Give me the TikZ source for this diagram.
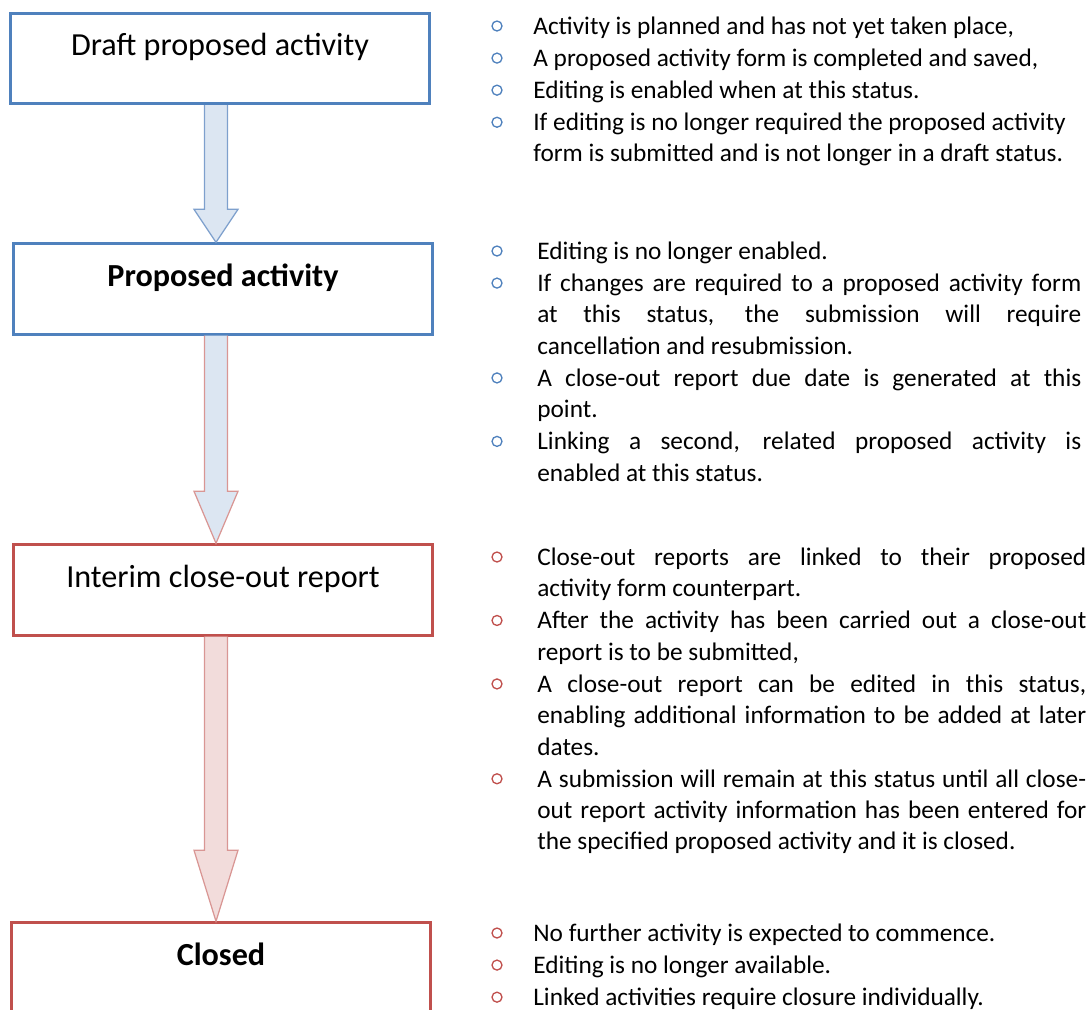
\documentclass[tikz,border=0pt]{standalone}
\usepackage{fontspec}
\setmainfont{Carlito}
\usepackage{tikz}
\usetikzlibrary{positioning, calc}
\definecolor{statusblue}{RGB}{79, 129, 189}
\definecolor{statusred}{RGB}{192, 80, 77}
\definecolor{flowblue}{RGB}{220, 230, 242}
\definecolor{flowpink}{RGB}{242, 220, 219}
\definecolor{edgeblue}{RGB}{126, 160, 205}
\definecolor{edgered}{RGB}{217, 150, 148}
\tolerance=10000
\hbadness=10000
\hyphenpenalty=10000

% block arrow between two status boxes: style, from, to, head length
\newcommand{\flowarrow}[4]{%
  \filldraw[#1] ($(flowaxis |- #2.south)+(-0.23cm,0)$)
    -- ($(flowaxis |- #3.north)+(-0.23cm,#4)$) -- ++(-0.21cm,0)
    -- (flowaxis |- #3.north)
    -- ($(flowaxis |- #3.north)+(0.44cm,#4)$) -- ++(-0.21cm,0)
    -- ($(flowaxis |- #2.south)+(0.23cm,0)$);}

\begin{document}
\begin{tikzpicture}[x=0.02cm, y=-0.02cm,
    status/.style={draw, line width=1.7pt, fill=white, minimum width=8.4cm, minimum height=1.81cm,
      text height=13pt, text depth=16pt, font=\fontsize{18.3}{22}\selectfont},
    note/.style={anchor=north west, inner sep=0pt, align=left, font=\fontsize{14.4}{17.86}\selectfont,
      execute at begin node=\strut, execute at end node=\strut},
    justnote/.style={note, align=justify, text width=#1},
    bul/.style={circle, draw, line width=0.75pt, minimum size=0.2cm, inner sep=0pt},
    bluearrow/.style={fill=flowblue, draw=edgeblue, line width=0.7pt},
    mixarrow/.style={fill=flowblue, draw=edgered, line width=0.7pt},
    redarrow/.style={fill=flowpink, draw=edgered, line width=0.7pt}]

    \useasboundingbox (0,0) rectangle (1089,1009);
    \clip (0,0) rectangle (1089,1009);

    % Status boxes
    \node[status, draw=statusblue] (draft) at (220,58.5) {Draft proposed activity};
    \node[status, draw=statusblue] (proposed) at (223,289) {\bfseries Proposed activity};
    \node[status, draw=statusred] (interim) at (223,590) {Interim close-out report};
    \node[status, draw=statusred] (closed) at (221,968) {\bfseries Closed};

    % Arrows
    \coordinate (flowaxis) at (216,0);
    \flowarrow{bluearrow}{draft}{proposed}{0.66cm}
    \flowarrow{mixarrow}{proposed}{interim}{1.04cm}
    \flowarrow{redarrow}{interim}{closed}{1.42cm}

    % Draft notes
    \node[note] (n11) at (533,12) {Activity is planned and has not yet taken place,};
    \node[note, below=0pt of n11.south west, anchor=north west] (n12) {A proposed activity form is completed and saved,};
    \node[note, below=0pt of n12.south west, anchor=north west] (n13) {Editing is enabled when at this status.};
    \node[note, text width=11.2cm, align=flush left, below=0pt of n13.south west, anchor=north west] (n14) {If editing is no longer required the proposed activity\\form is submitted and is not longer in a draft status.};

    % Proposed notes
    \node[justnote=10.88cm] (n21) at (537,237) {Editing is no longer enabled.};
    \node[justnote=10.88cm, below=0pt of n21.south west, anchor=north west] (n22) {If changes are required to a proposed activity form\linebreak at this status, the submission will require\linebreak cancellation and resubmission.};
    \node[justnote=10.88cm, below=0pt of n22.south west, anchor=north west] (n23) {A close-out report due date is generated at this\linebreak point.};
    \node[justnote=10.88cm, below=0pt of n23.south west, anchor=north west] (n24) {Linking a second, related proposed activity is\linebreak enabled at this status.};

    % Interim notes
    \node[justnote=10.98cm] (n31) at (537,543) {Close-out reports are linked to their proposed\linebreak activity form counterpart.};
    \node[justnote=10.98cm, below=0pt of n31.south west, anchor=north west] (n32) {After the activity has been carried out a close-out\linebreak report is to be submitted,};
    \node[justnote=10.98cm, below=0pt of n32.south west, anchor=north west] (n33) {A close-out report can be edited in this status,\linebreak enabling additional information to be added at later\linebreak dates.};
    \node[justnote=10.98cm, below=0pt of n33.south west, anchor=north west] (n34) {A submission will remain at this status until all close-\linebreak out report activity information has been entered for\linebreak the specified proposed activity and it is closed.};

    % Closed notes
    \node[note] (n41) at (533,919) {No further activity is expected to commence.};
    \node[note, below=0pt of n41.south west, anchor=north west] (n42) {Editing is no longer available.};
    \node[note, below=0pt of n42.south west, anchor=north west] (n43) {Linked activities require closure individually.};

    % Bullets
    \foreach \n/\c/\dx in {n11/statusblue/-36, n12/statusblue/-36, n13/statusblue/-36, n14/statusblue/-36,
        n21/statusblue/-40, n22/statusblue/-40, n23/statusblue/-40, n24/statusblue/-40,
        n31/statusred/-40, n32/statusred/-40, n33/statusred/-40, n34/statusred/-40,
        n41/statusred/-36, n42/statusred/-36, n43/statusred/-36}
      \node[bul, draw=\c] (b-\n) at ($(\n.north west)+(\dx,14)$) {};

\end{tikzpicture}
\end{document}
